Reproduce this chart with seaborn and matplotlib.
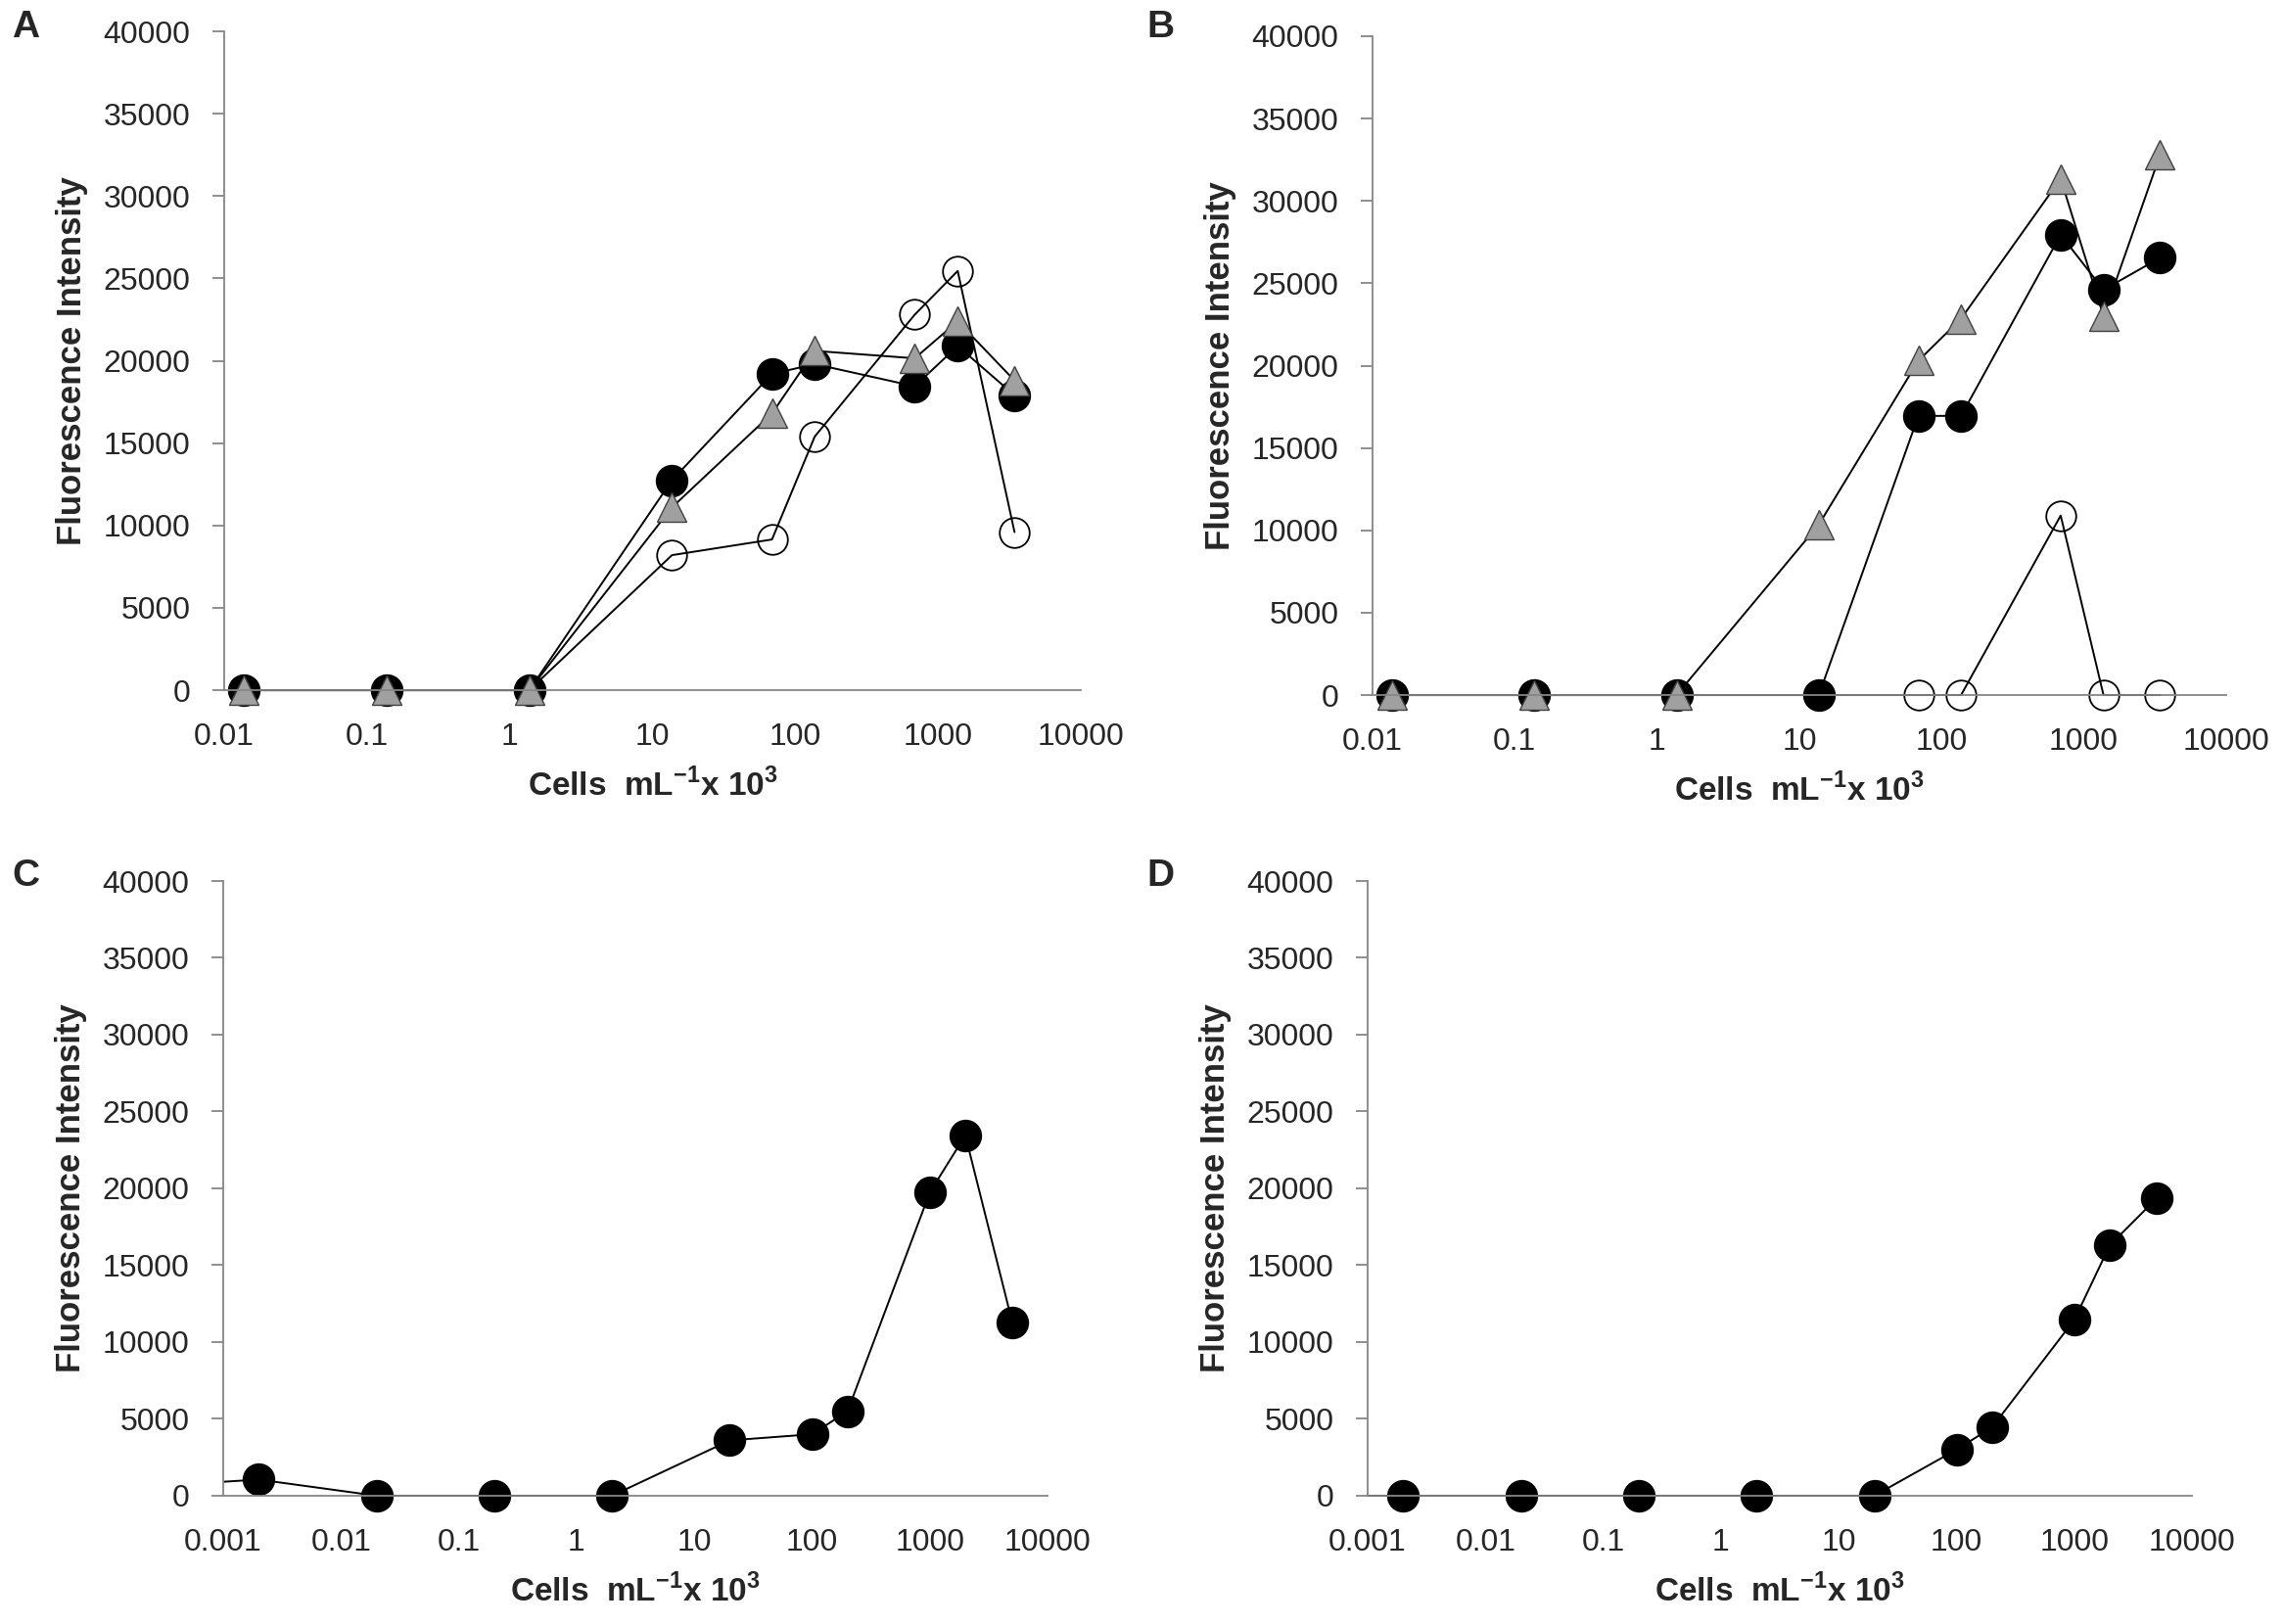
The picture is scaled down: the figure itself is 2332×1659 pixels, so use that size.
import matplotlib
matplotlib.use("Agg")
import matplotlib.pyplot as plt
import seaborn as sns
from matplotlib.transforms import Bbox, TransformedBbox

# panel A / B : three series on the same dilution series
ab_cells = [0.0137, 0.137, 1.37, 13.7, 68.7, 137, 687, 1374, 3435]
a_filled = [0, 0, 0, 12750, 19200, 19800, 18450, 20900, 17900]
a_triangle = [0, 0, 0, 11100, 16800, 20600, 20150, 22400, 18800]
a_open = [0, 0, 0, 8200, 9150, 15400, 22800, 25450, 9600]

b_filled = [0, 0, 0, 0, 16950, 16950, 27950, 24600, 26550]
b_triangle = [0, 0, 0, 10350, 20300, 22850, 31350, 23000, 32800]
b_open = [0, 0, 0, 0, 0, 0, 10900, 0, 0]

# panel C / D : single series
cd_cells = [0.0002, 0.002, 0.02, 0.2, 2, 20, 100, 200, 1000, 2000, 5000]
c_filled = [580, 1050, 0, 0, 0, 3600, 4000, 5500, 19750, 23450, 11300]
d_filled = [0, 0, 0, 0, 0, 0, 3000, 4450, 11450, 16300, 19350]

y_ticks = [0, 5000, 10000, 15000, 20000, 25000, 30000, 35000, 40000]
ab_xticks = [0.01, 0.1, 1, 10, 100, 1000, 10000]
ab_xlabels = ["0.01", "0.1", "1", "10", "100", "1000", "10000"]
cd_xticks = [0.001, 0.01, 0.1, 1, 10, 100, 1000, 10000]
cd_xlabels = ["0.001", "0.01", "0.1", "1", "10", "100", "1000", "10000"]

sns.set_style("white")
plt.rcParams['font.family'] = ['Liberation Sans', 'DejaVu Sans']
plt.rcParams['mathtext.fontset'] = 'custom'
plt.rcParams['mathtext.rm'] = 'Liberation Sans'
plt.rcParams['mathtext.bf'] = 'Liberation Sans:bold'

AXIS_GREY = '#868686'
TRI_GREY = '#a0a0a0'
FS = 23

fig = plt.figure(figsize=(23.32, 16.59), dpi=100)
ax_a = fig.add_axes([0.0982, 0.5750, 0.3752, 0.4057])
ax_b = fig.add_axes([0.6012, 0.5720, 0.3739, 0.4057])
ax_c = fig.add_axes([0.0978, 0.0790, 0.3611, 0.3785])
ax_d = fig.add_axes([0.5991, 0.0790, 0.3611, 0.3785])


def draw(ax, x, y, kind):
    if kind == 'open':
        style = dict(marker='o', markersize=22, markerfacecolor='none',
                     markeredgecolor='black', markeredgewidth=1.3)
    elif kind == 'tri':
        style = dict(marker='^', markersize=22, markerfacecolor=TRI_GREY,
                     markeredgecolor='#404040', markeredgewidth=1.0)
    else:
        style = dict(marker='o', markersize=23, markerfacecolor='black',
                     markeredgecolor='black', markeredgewidth=1.0)
    sns.lineplot(x=x, y=y, ax=ax, color='black', linewidth=1.4,
                 estimator=None, sort=False, **style)


def style_axis(ax, xlim, xticks, xlabels):
    ax.set_xscale('log')
    ax.set_xlim(*xlim)
    ax.set_ylim(0, 40000)
    ax.set_yticks(y_ticks)
    ax.set_yticklabels([str(t) for t in y_ticks])
    ax.set_xticks(xticks)
    ax.set_xticklabels(xlabels)
    ax.xaxis.set_minor_locator(matplotlib.ticker.NullLocator())
    for s in ['top', 'right']:
        ax.spines[s].set_visible(False)
    for s in ['left', 'bottom']:
        ax.spines[s].set_color(AXIS_GREY)
        ax.spines[s].set_linewidth(1.3)
    ax.tick_params(axis='y', direction='out', length=9, width=1.3,
                   color=AXIS_GREY, pad=16, labelsize=FS, left=True)
    ax.tick_params(axis='x', length=0, pad=24, labelsize=FS)
    ax.set_ylabel("Fluorescence Intensity", fontsize=25, fontweight='bold',
                  labelpad=11)
    ax.set_xlabel(r"Cells  mL$^{\mathbf{-1}}$x 10$^{\mathbf{3}}$",
                  fontsize=24, fontweight='bold', labelpad=12)
    # markers sitting on y=0 stay whole, but lines are still cut at the x limits
    clip = TransformedBbox(Bbox([[0, -0.2], [1, 1.05]]), ax.transAxes)
    for line in ax.get_lines():
        line.set_clip_box(clip)
    if ax.get_legend():
        ax.get_legend().remove()


draw(ax_a, ab_cells, a_open, 'open')
draw(ax_a, ab_cells, a_filled, 'filled')
draw(ax_a, ab_cells, a_triangle, 'tri')
style_axis(ax_a, (0.01, 10000), ab_xticks, ab_xlabels)

draw(ax_b, ab_cells, b_open, 'open')
draw(ax_b, ab_cells, b_filled, 'filled')
draw(ax_b, ab_cells, b_triangle, 'tri')
style_axis(ax_b, (0.01, 10000), ab_xticks, ab_xlabels)

draw(ax_c, cd_cells, c_filled, 'filled')
style_axis(ax_c, (0.001, 10000), cd_xticks, cd_xlabels)

draw(ax_d, cd_cells, d_filled, 'filled')
style_axis(ax_d, (0.001, 10000), cd_xticks, cd_xlabels)

for letter, (px, py) in zip("ABCD", [(26, 28), (1185, 28), (26, 895), (1185, 895)]):
    fig.text(px / 2332, 1 - py / 1659, letter, fontsize=28, fontweight='bold',
             ha='center', va='center')

fig.savefig("out.png", dpi=100)
